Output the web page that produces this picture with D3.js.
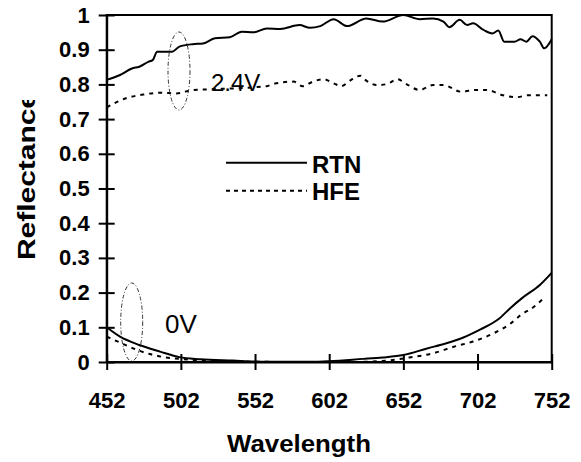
<!DOCTYPE html>
<html><head><meta charset="utf-8">
<script src="https://cdn.jsdelivr.net/npm/d3@7/dist/d3.min.js"></script>
<style>body{margin:0;background:#fff}svg{display:block}text{font-family:Arial,"Liberation Sans",sans-serif}</style>
</head><body>
<script>
// RTN, 2.4V
const rtnHighW = [452,461,469,474,480,483,486,496,501,510,517,525,535,543,551,560,569,582,589,596,605,614,627,638,652,663,672,679,683,690,695,699,706,712,716,720,727,731,735,739,744,747,752];
const rtnHighR = [0.813,0.827,0.846,0.851,0.865,0.870,0.894,0.894,0.909,0.916,0.918,0.933,0.936,0.952,0.950,0.961,0.960,0.971,0.963,0.968,0.988,0.968,0.990,0.981,1.000,0.988,0.990,0.981,0.965,0.986,0.971,0.976,0.957,0.947,0.955,0.923,0.923,0.930,0.923,0.939,0.923,0.904,0.930];
// HFE, 2.4V
const hfeHighW = [452,465,477,488,499,510,522,560,564,578,584,591,598,605,610,616,623,627,634,641,648,654,663,672,679,691,701,708,719,728,737,749];
const hfeHighR = [0.734,0.760,0.771,0.776,0.774,0.784,0.786,0.795,0.801,0.808,0.795,0.808,0.815,0.803,0.795,0.811,0.825,0.811,0.798,0.801,0.815,0.801,0.784,0.798,0.798,0.779,0.784,0.784,0.769,0.763,0.769,0.769];
// RTN, 0V
const rtnLowW = [452,461,474,488,501,515,537,555,589,625,638,652,668,681,692,704,716,724,732,744,752];
const rtnLowR = [0.100,0.073,0.049,0.030,0.014,0.008,0.004,0.001,0.001,0.009,0.013,0.020,0.039,0.054,0.070,0.094,0.123,0.155,0.184,0.222,0.257];
// HFE, 0V
const hfeLowW = [452,461,470,481,492,504,535,582,616,641,656,672,686,699,713,724,731,740,747];
const hfeLowR = [0.073,0.056,0.039,0.023,0.013,0.008,0.002,0.000,0.000,0.004,0.013,0.025,0.044,0.059,0.083,0.110,0.135,0.159,0.186];

const xTicks = [452,502,552,602,652,702,752];
const yTicks = [0,0.1,0.2,0.3,0.4,0.5,0.6,0.7,0.8,0.9,1];
const legendNames = ["RTN","HFE"];
const voltLabels = ["2.4V","0V"];

const W = 581, H = 462;
const FONT = 'Arial,"Liberation Sans",sans-serif';
const svg = d3.select("body").append("svg").attr("width", W).attr("height", H);
const x = d3.scaleLinear().domain([452,752]).range([106.7,551.7]);
const y = d3.scaleLinear().domain([0,1]).range([362,15]);

// frame
svg.append("rect").attr("x", x(452)).attr("y", y(1)).attr("width", x(752)-x(452)).attr("height", y(0)-y(1))
  .attr("fill","none").attr("stroke","#000").attr("stroke-width",2);

// axes with crossing ticks
const yAx = svg.append("g").attr("transform",`translate(${x(452)},0)`)
  .call(d3.axisLeft(y).tickValues(yTicks).tickSizeInner(8).tickSizeOuter(0).tickPadding(9).tickFormat(d => d===0?"0":d===1?"1":d3.format(".1f")(d)));
yAx.select(".domain").attr("stroke-width",2);
yAx.selectAll(".tick line").attr("x1",8).attr("x2",-8).attr("stroke","#000").attr("stroke-width",2);
yAx.selectAll("text").attr("font-size",22).attr("font-weight","bold").attr("fill","#000").attr("font-family",FONT);

const xAx = svg.append("g").attr("transform",`translate(0,${y(0)})`)
  .call(d3.axisBottom(x).tickValues(xTicks).tickSizeInner(8).tickSizeOuter(0).tickPadding(22));
xAx.select(".domain").attr("stroke-width",2);
xAx.selectAll(".tick line").attr("y1",-8).attr("y2",8).attr("stroke","#000").attr("stroke-width",2);
xAx.selectAll("text").attr("font-size",22).attr("font-weight","bold").attr("fill","#000").attr("font-family",FONT);

// series
const line = d3.line().x(d => x(d[0])).y(d => y(d[1])).curve(d3.curveMonotoneX);
const zip = (a,b) => a.map((v,i)=>[v,b[i]]);
svg.append("path").attr("d", line(zip(rtnHighW, rtnHighR))).attr("fill","none").attr("stroke","#000").attr("stroke-width",2);
svg.append("path").attr("d", line(zip(rtnLowW, rtnLowR))).attr("fill","none").attr("stroke","#000").attr("stroke-width",2);
svg.append("path").attr("d", line(zip(hfeHighW, hfeHighR))).attr("fill","none").attr("stroke","#000").attr("stroke-width",2).attr("stroke-dasharray","4,5");
svg.append("path").attr("d", line(zip(hfeLowW, hfeLowR))).attr("fill","none").attr("stroke","#000").attr("stroke-width",2).attr("stroke-dasharray","4,5");

// ellipses
svg.append("ellipse").attr("cx",179).attr("cy",71).attr("rx",11).attr("ry",39)
  .attr("fill","none").attr("stroke","#333").attr("stroke-width",1).attr("stroke-dasharray","4,2,1,2");
svg.append("ellipse").attr("cx",131.7).attr("cy",322).attr("rx",11).attr("ry",39)
  .attr("fill","none").attr("stroke","#333").attr("stroke-width",1).attr("stroke-dasharray","4,2,1,2");

// voltage labels
svg.append("text").attr("x",211).attr("y",91).attr("font-size",24).attr("font-family",FONT).text(voltLabels[0]);
svg.append("text").attr("x",165).attr("y",333).attr("font-size",26).attr("font-family",FONT).text(voltLabels[1]);

// legend
svg.append("line").attr("x1",226).attr("x2",307).attr("y1",162.7).attr("y2",162.7).attr("stroke","#000").attr("stroke-width",2);
svg.append("line").attr("x1",226).attr("x2",307).attr("y1",190.7).attr("y2",190.7).attr("stroke","#000").attr("stroke-width",2).attr("stroke-dasharray","4,4");
svg.append("text").attr("x",312).attr("y",173).attr("font-size",24).attr("font-weight","bold").attr("font-family",FONT).text(legendNames[0]);
svg.append("text").attr("x",312).attr("y",200).attr("font-size",24).attr("font-weight","bold").attr("font-family",FONT).text(legendNames[1]);

// axis titles
svg.append("text").attr("x",299).attr("y",452).attr("text-anchor","middle").attr("font-size",24).attr("font-weight","bold").attr("font-family",FONT)
  .attr("textLength",144).attr("lengthAdjust","spacingAndGlyphs").text("Wavelength");
const clip = svg.append("clipPath").attr("id","yclip");
clip.append("rect").attr("x",0).attr("y",100).attr("width",60).attr("height",300);
svg.append("g").attr("clip-path","url(#yclip)")
  .append("text").attr("transform","translate(35,260) rotate(-90)").attr("x",0).attr("y",0)
  .attr("font-size",24).attr("font-weight","bold").attr("font-family",FONT).attr("textLength",168).attr("lengthAdjust","spacingAndGlyphs").text("Reflectance");
</script>
</body></html>
